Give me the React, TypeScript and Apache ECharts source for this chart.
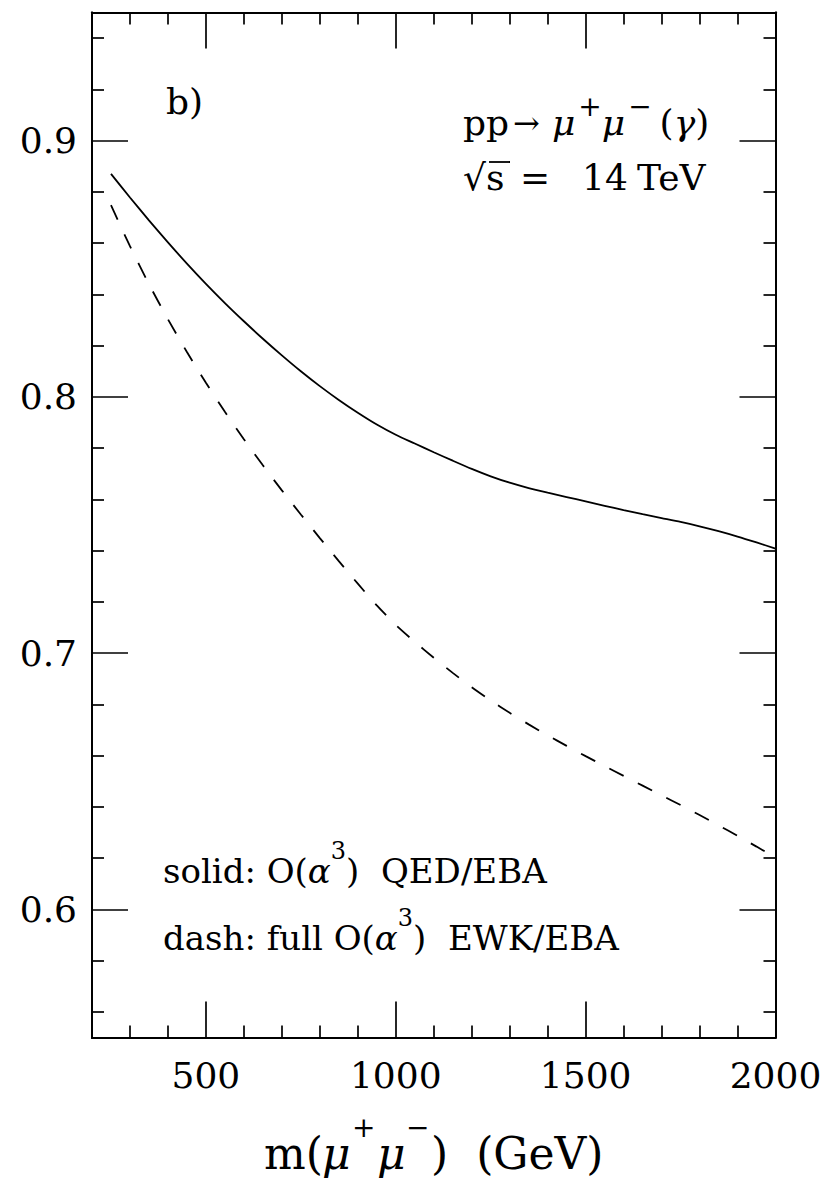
import React, { useEffect, useRef } from 'react';
import * as echarts from 'echarts';

const SERIF = '"DejaVu Serif", serif';

// m(mu+mu-) in GeV
const MASS = [250, 300, 350, 400, 450, 500, 550, 600, 650, 700, 750, 800, 850, 900, 950, 1000,
  1050, 1100, 1150, 1200, 1250, 1300, 1350, 1400, 1450, 1500, 1550, 1600, 1650, 1700, 1750,
  1800, 1850, 1900, 1950, 2000];
// solid: O(alpha^3) QED / EBA
const SOLID = [0.8870, 0.8778, 0.8689, 0.8603, 0.8520, 0.8441, 0.8366, 0.8295, 0.8227, 0.8162,
  0.8100, 0.8042, 0.7988, 0.7938, 0.7892, 0.7852, 0.7818, 0.7784, 0.7751, 0.7719, 0.7690,
  0.7665, 0.7644, 0.7626, 0.7609, 0.7592, 0.7575, 0.7558, 0.7542, 0.7527, 0.7512, 0.7495,
  0.7476, 0.7455, 0.7432, 0.7408];
// dash: full O(alpha^3) EWK / EBA
const DASHED = [0.8748, 0.8588, 0.8440, 0.8303, 0.8175, 0.8055, 0.7942, 0.7835, 0.7733, 0.7635,
  0.7541, 0.7449, 0.7359, 0.7271, 0.7186, 0.7110, 0.7044, 0.6982, 0.6923, 0.6867, 0.6815,
  0.6767, 0.6722, 0.6679, 0.6638, 0.6598, 0.6559, 0.6521, 0.6483, 0.6445, 0.6407, 0.6368,
  0.6328, 0.6287, 0.6245, 0.6202];

const X_MAJOR = [500, 1000, 1500, 2000];
const X_MINOR = [300, 400, 600, 700, 800, 900, 1100, 1200, 1300, 1400, 1600, 1700, 1800, 1900];
const Y_MAJOR = [0.6, 0.7, 0.8, 0.9];
const Y_MINOR = [0.56, 0.58, 0.62, 0.64, 0.66, 0.68, 0.72, 0.74, 0.76, 0.78, 0.82, 0.84, 0.86,
  0.88, 0.92, 0.94];

const X_MIN = 200, X_MAX = 2000, Y_MIN = 0.55, Y_MAX = 0.95;

function xAxis(position: string, ticks: number[], len: number, labels: boolean) {
  return {
    type: 'value', position, min: X_MIN, max: X_MAX,
    axisLine: { show: true, onZero: false, lineStyle: { color: '#000', width: 2 } },
    axisTick: { show: true, inside: true, length: len, customValues: ticks, lineStyle: { color: '#000', width: 1.7 } },
    axisLabel: labels
      ? { show: true, customValues: X_MAJOR, margin: 20, fontFamily: SERIF, fontSize: 36, color: '#000',
          formatter: (v: number) => String(v) }
      : { show: false },
    splitLine: { show: false },
  };
}
function yAxis(position: string, ticks: number[], len: number, labels: boolean) {
  return {
    type: 'value', position, min: Y_MIN, max: Y_MAX,
    axisLine: { show: true, onZero: false, lineStyle: { color: '#000', width: 2 } },
    axisTick: { show: true, inside: true, length: len, customValues: ticks, lineStyle: { color: '#000', width: 1.7 } },
    axisLabel: labels
      ? { show: true, customValues: Y_MAJOR, margin: 15, fontFamily: SERIF, fontSize: 36, color: '#000',
          formatter: (v: number) => v.toFixed(1) }
      : { show: false },
    splitLine: { show: false },
  };
}

const tok = (size: number, lh: number, extra: any = {}) => ({ fontFamily: SERIF, fontSize: size, lineHeight: lh, fill: '#000', ...extra });

export default function App() {
  const ref = useRef<HTMLDivElement>(null);
  useEffect(() => {
    if (!ref.current) return;
    const chart = echarts.init(ref.current, undefined, { renderer: 'svg' });
    const T = (x: number, y: number, text: string, size: number, extra: any = {}) => ({
      type: 'text', x, y,
      style: { text, fontFamily: SERIF, fontSize: size, fill: '#000', verticalAlign: 'middle', ...extra },
    });
    const legendRich = {
      n: tok(34, 64),
      i: tok(34, 64, { fontStyle: 'italic' }),
      s: tok(24, 24, { verticalAlign: 'top' }),
    };
    chart.setOption({
      animation: false,
      backgroundColor: '#fff',
      grid: { left: 92, top: 12.5, width: 683.5, height: 1025, containLabel: false },
      xAxis: [
        xAxis('bottom', X_MAJOR, 36, true),
        xAxis('bottom', X_MINOR, 12, false),
        xAxis('top', X_MAJOR, 36, false),
        xAxis('top', X_MINOR, 12, false),
      ],
      yAxis: [
        yAxis('left', Y_MAJOR, 36, true),
        yAxis('left', Y_MINOR, 12, false),
        yAxis('right', Y_MAJOR, 36, false),
        yAxis('right', Y_MINOR, 12, false),
      ],
      series: [
        {
          type: 'line', name: 'solid', xAxisIndex: 0, yAxisIndex: 0, showSymbol: false, smooth: 0.25,
          data: MASS.map((m, i) => [m, SOLID[i]]),
          lineStyle: { color: '#000', width: 1.8, type: 'solid' },
        },
        {
          type: 'line', name: 'dash', xAxisIndex: 0, yAxisIndex: 0, showSymbol: false, smooth: 0.25,
          data: MASS.map((m, i) => [m, DASHED[i]]),
          lineStyle: { color: '#000', width: 1.8, type: [16, 16] },
        },
      ],
      graphic: [
        T(166, 101.5, 'b)', 36),
        {
          type: 'text', x: 463, y: 122.5,
          style: {
            text: '{n|pp}{a|→}{m|μ}{s|+}{i|μ}{s|−}{p|(}{i|γ}{n|)}',
            verticalAlign: 'middle',
            rich: {
              n: tok(36, 60),
              p: tok(36, 60, { padding: [0, 0, 0, 8] }),
              i: tok(36, 60, { fontStyle: 'italic' }),
              m: tok(36, 60, { fontStyle: 'italic', padding: [0, 0, 0, 12] }),
              a: tok(32, 60, { padding: [0, 0, 0, 4] }),
              s: tok(28, 28, { verticalAlign: 'top', padding: [0, 0, 0, 3] }),
            },
          },
        },
        // sqrt(s) = 14 TeV
        T(463, 177.5, '√s', 36),
        { type: 'line', shape: { x1: 489, y1: 162, x2: 510, y2: 162 }, style: { stroke: '#000', lineWidth: 1.8 } },
        T(520, 177.5, '=', 36),
        T(582, 177.5, '14', 36),
        T(637, 177.5, 'TeV', 36),
        {
          type: 'text', x: 163, y: 870.5,
          style: { text: '{n|solid: O(}{i|α}{s|3}{n|)  QED/EBA}', verticalAlign: 'middle', rich: legendRich },
        },
        {
          type: 'text', x: 163, y: 937.5,
          style: { text: '{n|dash: full O(}{i|α}{s|3}{n|)  EWK/EBA}', verticalAlign: 'middle', rich: legendRich },
        },
        // x-axis title: m(mu+ mu-)  (GeV)
        T(264, 1153, 'm(', 44),
        T(322, 1153, 'μ', 44, { fontStyle: 'italic' }),
        T(352, 1127, '+', 28),
        T(377, 1153, 'μ', 44, { fontStyle: 'italic' }),
        T(406, 1127, '−', 28),
        T(431, 1153, ')  (GeV)', 44),
      ],
    });
    return () => chart.dispose();
  }, []);
  return <div ref={ref} style={{ position: 'fixed', left: 0, top: 0, width: 827, height: 1183 }} />;
}
